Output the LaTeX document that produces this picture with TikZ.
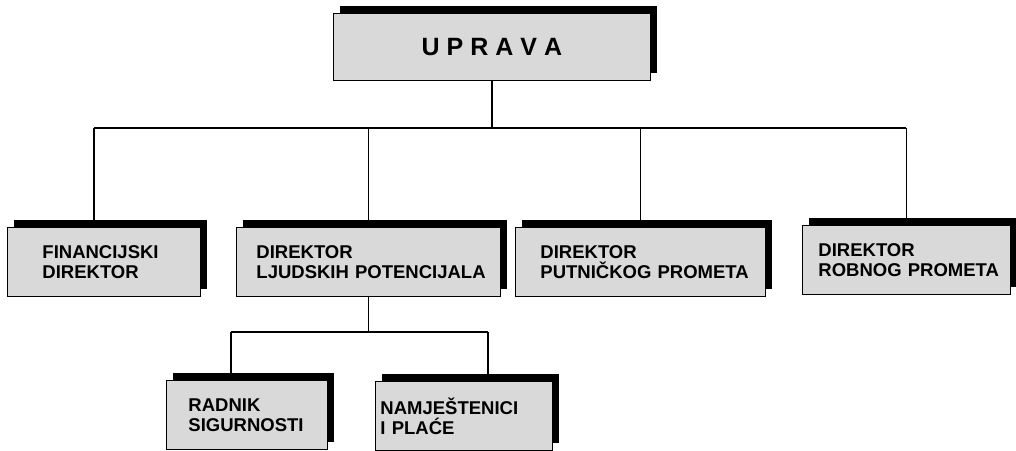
\documentclass[tikz,border=0pt]{standalone}
\usepackage{fontspec}
\setmainfont{Liberation Sans}
\usepackage{tikz}
\usetikzlibrary{shadows,backgrounds}
\definecolor{boxgray}{RGB}{217,217,217}
\newcommand{\ind}[1]{\hspace*{#1pt}}

\begin{document}
\begin{tikzpicture}[x=1pt, y=-1pt,
    orgbox/.style={draw, line width=0.9pt, fill=boxgray, anchor=north west,
        inner sep=0pt, minimum height=69pt, align=left,
        font=\fontsize{18.5}{20}\selectfont\bfseries,
        general shadow={fill=black, shadow xshift=7pt, shadow yshift=7pt}},
    link/.style={line width=1.4pt}]
    \useasboundingbox (0,0) rectangle (1016,450);

    % Top box
    \node[orgbox, text width=317pt, minimum height=67pt, align=center,
        font=\fontsize{25}{28}\selectfont\bfseries] (uprava) at (333,13)
        {U\hspace{7pt}P\hspace{7pt}R\hspace{7pt}A\hspace{7pt}V\hspace{7pt}A};

    % Directors
    \node[orgbox, text width=193pt] (fin) at (7,227) {\ind{35}FINANCIJSKI\\\ind{35}DIREKTOR};
    \node[orgbox, text width=264pt] (ljud) at (236,227) {\ind{20}DIREKTOR\\\ind{20}LJUDSKIH POTENCIJALA};
    \node[orgbox, text width=250pt] (put) at (515,227) {\ind{25}DIREKTOR\\\ind{25}PUTNIČKOG PROMETA};
    \node[orgbox, text width=208pt] (rob) at (802,225) {\ind{16}DIREKTOR\\\ind{16}ROBNOG PROMETA};

    % Staff
    \node[orgbox, text width=161pt] (rad) at (166,380) {\ind{22}RADNIK\\\ind{22}SIGURNOSTI};
    \node[orgbox, text width=177pt] (namj) at (375,381) {\ind{5}NAMJEŠTENICI\\\ind{5}I PLAĆE};

    % Connectors
    \begin{scope}[on background layer]
        \coordinate (busL) at (94,128);
        \coordinate (busR) at (rob.north |- busL);
        \draw[link] (uprava.south) -- (uprava.south |- busL);
        \draw[link] (busL) -- (busR);
        \draw[link] (busL) -- (busL |- fin.north);
        \draw[link] (ljud.north |- busL) -- (ljud.north);
        \draw[link] (put.north |- busL) -- (put.north);
        \draw[link] (busR) -- (rob.north);

        \coordinate (subL) at (231,332);
        \coordinate (subR) at (488,332);
        \draw[link] (ljud.south) -- (ljud.south |- subL);
        \draw[link] (subL) -- (subR);
        \draw[link] (subL) -- (subL |- rad.north);
        \draw[link] (subR) -- (subR |- namj.north);
    \end{scope}
\end{tikzpicture}
\end{document}
